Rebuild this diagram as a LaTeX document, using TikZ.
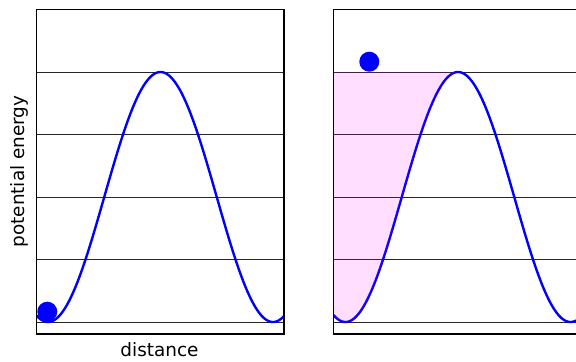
\documentclass[tikz,border=0pt]{standalone}
\usepackage{fontspec}
\setmainfont{DejaVu Sans}
\definecolor{puremag}{rgb}{1,0,1}
\begin{document}
\begin{tikzpicture}[x=1bp,y=-1bp,
  frame/.style={line width=1.3bp,black},
  gridline/.style={line width=0.8bp,black!85},
  curve/.style={line width=2.4bp,blue,line join=round},
  ball/.style={circle,fill=blue,inner sep=0pt,minimum size=20bp},
  lbl/.style={font=\fontsize{18.5}{22}\selectfont,inner sep=0pt},
  shade/.style={fill=puremag,fill opacity=0.13}]
\useasboundingbox (0,0) rectangle (576,361);
% left panel
\foreach \yy in {72,134.5,197,259.5,322} \draw[gridline] (36.5,\yy) -- (284,\yy);
\begin{scope}
\clip (36.5,9.5) rectangle (284,334);
\draw[curve] plot[domain=36.5:284,samples=150] (\x,{322-125*(1-cos(1.6*(\x-48)))});
\end{scope}
\draw[frame] (36.5,9.5) rectangle (284,334);
\node[ball] (b1) at (47.3,311.7) {};
% right panel
\foreach \yy in {72,134.5,197,259.5,322} \draw[gridline] (333.5,\yy) -- (576,\yy);
\begin{scope}
\clip (333.5,9.5) rectangle (576,334);
\draw[curve] plot[domain=333.5:576,samples=150] (\x,{322-125*(1-cos(1.6*(\x-345.5)))});
\fill[shade] (333.5,72) -- plot[domain=333.5:457.5,samples=100] (\x,{322-125*(1-cos(1.6*(\x-345.5)))}) -- cycle;
\end{scope}
\draw[frame] (577,9.5) -- (333.5,9.5) -- (333.5,334) -- (577,334);
\node[ball] (b2) at (369.3,61.7) {};
% labels
\node[lbl,rotate=90] (ylab) at (19.5,171.5) {potential energy};
\node[lbl] (xlab) at (159.5,349.5) {distance};
\end{tikzpicture}
\end{document}
